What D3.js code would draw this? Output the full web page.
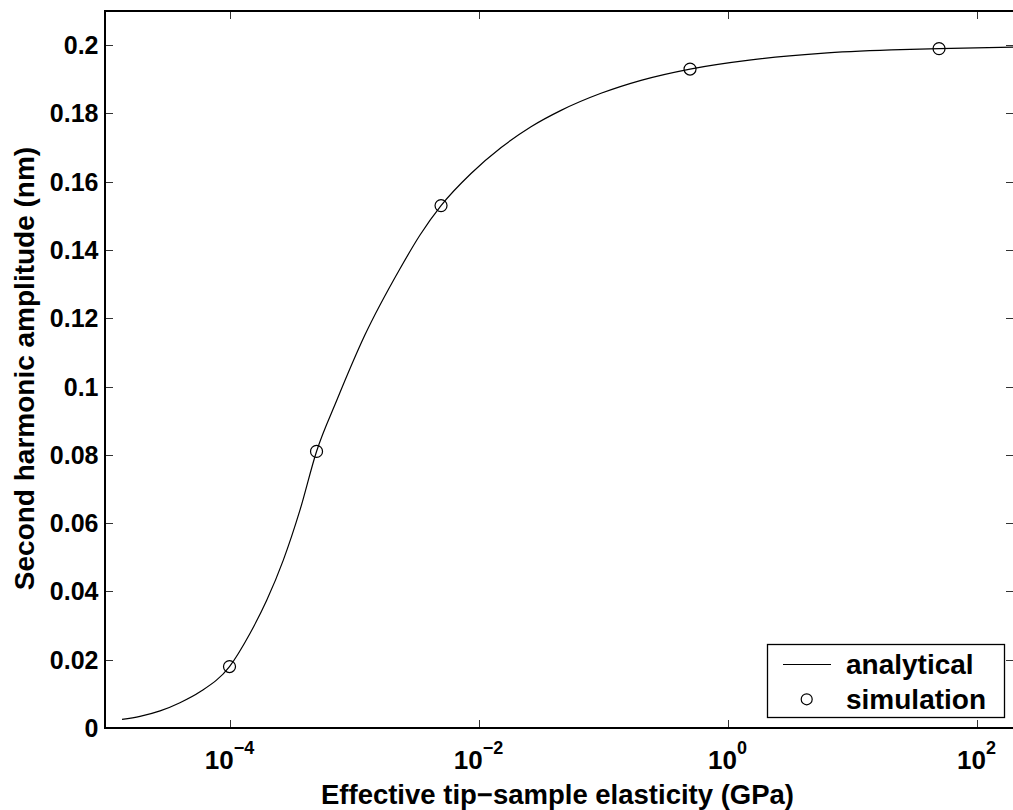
<!DOCTYPE html>
<html><head><meta charset="utf-8">
<script src="https://cdn.jsdelivr.net/npm/d3@7"></script>
<style>
html,body{margin:0;padding:0;background:#fff;}
svg{display:block;font-family:"Liberation Sans",Arial,Helvetica,sans-serif;font-weight:bold;}
</style></head>
<body>
<svg id="chart" width="1013" height="810"></svg>
<script>
// Analytical curve (elasticity in GPa, amplitude in nm)
const curveX = [1.37e-5, 1.91e-5, 2.77e-5, 4.0e-5, 5.8e-5, 1e-4, 1.46e-4, 1.99e-4, 2.7e-4, 3.68e-4, 5e-4, 7.26e-4, 1.22e-3, 2.34e-3, 3.39e-3, 5e-3, 8.71e-3, 1.52e-2, 2.64e-2, 4.6e-2, 9.63e-2, 0.202, 0.5, 1.55, 5.63, 20.6, 50, 200];
const curveY = [0.0025, 0.0034, 0.0050, 0.0074, 0.0106, 0.018, 0.0277, 0.0374, 0.0491, 0.0638, 0.081, 0.0959, 0.115, 0.1345, 0.1444, 0.153, 0.1624, 0.1700, 0.1761, 0.1809, 0.1859, 0.1897, 0.1930, 0.1957, 0.1976, 0.1986, 0.1990, 0.1994];
// Simulation points
const simX = [1e-4, 5e-4, 5e-3, 0.5, 50];
const simY = [0.018, 0.081, 0.153, 0.193, 0.199];
// Ticks
const xTickExps = [-4, -2, 0, 2];
const yTicks = [0, 0.02, 0.04, 0.06, 0.08, 0.1, 0.12, 0.14, 0.16, 0.18, 0.2];
const yTickLabels = ["0", "0.02", "0.04", "0.06", "0.08", "0.1", "0.12", "0.14", "0.16", "0.18", "0.2"];
const legendLabels = ["analytical", "simulation"];
const xLabel = "Effective tip\u2212sample elasticity (GPa)";
const yLabel = "Second harmonic amplitude (nm)";

const L = 105, R = 1014, T = 11, B = 728;
const svg = d3.select("#chart");
const x = d3.scaleLog().domain([1e-5, 200]).range([L, R]);
const y = d3.scaleLinear().domain([0, 0.21]).range([B, T]);

// ticks (inward, both sides)
const tickLen = 8;
const gt = svg.append("g").attr("stroke", "#333").attr("stroke-width", 1);
xTickExps.forEach(e => {
  const px = Math.round(x(Math.pow(10, e))) + 0.5;
  gt.append("line").attr("x1", px).attr("x2", px).attr("y1", B).attr("y2", B - tickLen);
  gt.append("line").attr("x1", px).attr("x2", px).attr("y1", T).attr("y2", T + tickLen);
});
yTicks.forEach(v => {
  const py = Math.round(y(v)) + 0.5;
  gt.append("line").attr("x1", L).attr("x2", L + tickLen).attr("y1", py).attr("y2", py);
  gt.append("line").attr("x1", R).attr("x2", R - tickLen).attr("y1", py).attr("y2", py);
});

// frame
svg.append("rect").attr("x", L).attr("y", T).attr("width", R - L).attr("height", B - T)
  .attr("fill", "none").attr("stroke", "#000").attr("stroke-width", 2);

// y tick labels
svg.append("g").selectAll("text").data(yTicks).join("text")
  .attr("x", 98.5).attr("y", d => y(d)).attr("dy", "0.36em")
  .attr("text-anchor", "end").attr("font-size", 25).attr("fill", "#000")
  .text((d, i) => yTickLabels[i]);

// x tick labels
const xt = svg.append("g");
xTickExps.forEach(e => {
  const t = xt.append("text").attr("x", x(Math.pow(10, e))).attr("y", 769)
    .attr("text-anchor", "middle").attr("fill", "#000");
  t.append("tspan").attr("font-size", 26).text("10");
  t.append("tspan").attr("font-size", 18).attr("dy", -15).text(e < 0 ? "\u2212" + Math.abs(e) : String(e));
});

// axis labels
svg.append("text").attr("x", (L + R) / 2 - 2).attr("y", 804).attr("text-anchor", "middle")
  .attr("font-size", 27.5).attr("fill", "#000").text(xLabel);
svg.append("text").attr("transform", `translate(34,${(T + B) / 2 - 1}) rotate(-90)`)
  .attr("text-anchor", "middle").attr("font-size", 28).attr("fill", "#000").text(yLabel);

// analytical curve
const pts = curveX.map((v, i) => [v, curveY[i]]);
const line = d3.line().x(d => x(d[0])).y(d => y(d[1])).curve(d3.curveMonotoneX);
svg.append("path").datum(pts).attr("d", line).attr("fill", "none")
  .attr("stroke", "#000").attr("stroke-width", 1.2);

// simulation points
svg.append("g").selectAll("circle").data(simX.map((v, i) => [v, simY[i]])).join("circle")
  .attr("cx", d => x(d[0])).attr("cy", d => y(d[1])).attr("r", 6)
  .attr("fill", "none").attr("stroke", "#000").attr("stroke-width", 1.2);

// legend
const lg = svg.append("g");
lg.append("rect").attr("x", 767.5).attr("y", 644.5).attr("width", 237).attr("height", 73)
  .attr("fill", "#fff").attr("stroke", "#000").attr("stroke-width", 1.3);
lg.append("line").attr("x1", 783).attr("x2", 831).attr("y1", 664.5).attr("y2", 664.5)
  .attr("stroke", "#000").attr("stroke-width", 1);
lg.append("circle").attr("cx", 806.7).attr("cy", 699.3).attr("r", 5.5)
  .attr("fill", "none").attr("stroke", "#000").attr("stroke-width", 1.2);
lg.selectAll("text").data(legendLabels).join("text")
  .attr("x", 846).attr("y", (d, i) => 674 + i * 34.5)
  .attr("font-size", 28).attr("fill", "#000").text(d => d);
</script>
</body></html>
